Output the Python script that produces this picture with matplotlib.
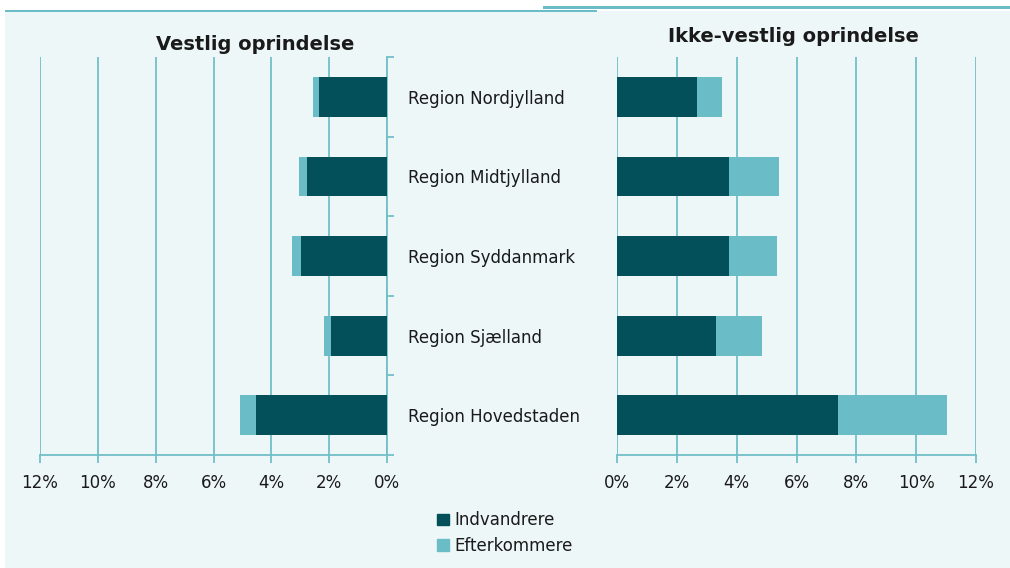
import matplotlib
matplotlib.use("Agg")
from matplotlib import pyplot as plt
from matplotlib.patches import Rectangle, Patch

regions = ["Region Nordjylland", "Region Midtjylland", "Region Syddanmark",
           "Region Sjælland", "Region Hovedstaden"]
vest_indv = [2.35, 2.78, 2.98, 1.94, 4.53]
vest_eft = [0.21, 0.26, 0.30, 0.24, 0.57]
ikke_indv = [2.68, 3.74, 3.74, 3.31, 7.39]
ikke_eft = [0.84, 1.68, 1.60, 1.53, 3.65]
ticks = [0, 2, 4, 6, 8, 10, 12]
tick_labels = ["0%", "2%", "4%", "6%", "8%", "10%", "12%"]

dark = "#034F5A"
light = "#6ABCC6"
grid = "#72BFC9"
bg = "#EEF7F8"
txt = "#1A1A1A"

plt.rcParams["font.family"] = ["DejaVu Sans"]

W, H = 1010, 568
fig = plt.figure(figsize=(W / 100, H / 100), dpi=100)
fig.patch.set_facecolor("white")

# panel background and top rules
fig.patches.append(Rectangle((5 / W, 0), 1 - 5 / W, (H - 11) / H, transform=fig.transFigure,
                             facecolor=bg, edgecolor="none", zorder=-10))
fig.patches.append(Rectangle((5 / W, (H - 12) / H), 592 / W, 2 / H, transform=fig.transFigure,
                             facecolor=light, edgecolor="none", zorder=-9))
fig.patches.append(Rectangle((543 / W, (H - 9) / H), 1 - 543 / W, 2.5 / H, transform=fig.transFigure,
                             facecolor=light, edgecolor="none", zorder=-9))


def make_ax(x0, x1):
    return fig.add_axes([x0 / W, (H - 455) / H, (x1 - x0) / W, 398 / H])


axl = make_ax(40, 387)
axr = make_ax(617, 976)
ypos = list(range(len(regions)))

for ax, indv, eft in [(axl, vest_indv, vest_eft), (axr, ikke_indv, ikke_eft)]:
    ax.set_facecolor("none")
    ax.barh(ypos, indv, height=0.5, color=dark, zorder=3)
    ax.barh(ypos, eft, left=indv, height=0.5, color=light, zorder=3)
    ax.set_ylim(4.5, -0.5)
    ax.set_xticks(ticks)
    ax.set_xticklabels(tick_labels, fontsize=12, color=txt)
    ax.grid(axis="x", color=grid, linewidth=1.3, zorder=0)
    ax.tick_params(axis="x", direction="out", length=6, width=1.3, color=grid, pad=8)
    for s in ax.spines.values():
        s.set_visible(False)
    ax.spines["bottom"].set_visible(True)
    ax.spines["bottom"].set_color(grid)
    ax.spines["bottom"].set_linewidth(1.3)

axl.set_xlim(12, 0)
axr.set_xlim(0, 12)

# left panel: spine at 0% with boundary ticks and region labels
axl.spines["right"].set_visible(True)
axl.spines["right"].set_color(grid)
axl.spines["right"].set_linewidth(1.3)
axl.yaxis.tick_right()
axl.set_yticks(ypos)
axl.set_yticklabels(regions, fontsize=12, color=txt)
axl.tick_params(axis="y", which="major", length=0, pad=15)
axl.set_yticks([-0.5, 0.5, 1.5, 2.5, 3.5, 4.5], minor=True)
axl.tick_params(axis="y", which="minor", direction="out", length=5, width=1.3, color=grid)
axr.set_yticks([])

fig.text(255 / W, 1 - 45 / H, "Vestlig oprindelse", fontsize=14, fontweight="bold",
         color=txt, ha="center", va="center")
fig.text(793 / W, 1 - 37 / H, "Ikke-vestlig oprindelse", fontsize=14, fontweight="bold",
         color=txt, ha="center", va="center")

handles = [Patch(color=dark, label="Indvandrere"), Patch(color=light, label="Efterkommere")]
fig.legend(handles=handles, loc="center", bbox_to_anchor=(505 / W, 1 - 533 / H), frameon=False,
           fontsize=12, handlelength=0.7, handleheight=0.7, handletextpad=0.3,
           labelspacing=0.45, labelcolor=txt)

fig.savefig("out.png", dpi=100, facecolor=fig.get_facecolor())
